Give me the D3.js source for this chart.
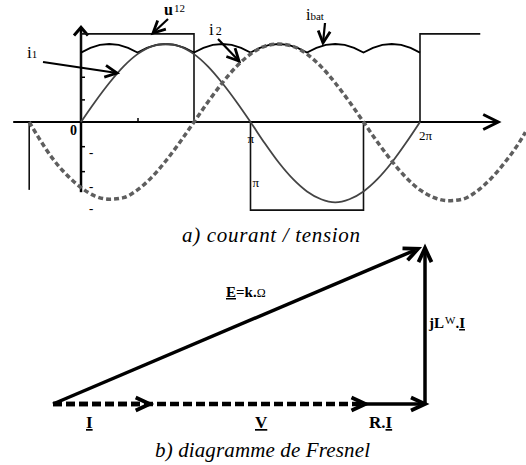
<!DOCTYPE html>
<html>
<head>
<meta charset="utf-8">
<script src="https://cdn.jsdelivr.net/npm/d3@7"></script>
<style>
body{margin:0;background:#fff;}
</style>
</head>
<body>
<script>
// a) waveforms : angle in degrees, values per-unit
var i1Deg = [0,15,30,45,60,75,90,105,120,135,150,165,180,195,210,225,240,255,270,285,300,315,330,345,360];
var i1Val = [0,0.26,0.5,0.71,0.87,0.97,1,0.97,0.87,0.71,0.5,0.26,0,-0.27,-0.52,-0.73,-0.89,-0.99,-1.03,-0.99,-0.89,-0.73,-0.52,-0.27,0];

var i2Deg = [-55,-45,-30,-15,0,15,30,45,60,75,90,105,120,135,150,165,180,195,210,225,240,255,270,285,300,315,330,345,360,375,390,405,420,435,450,465,472];
var i2Val = [0,-0.2,-0.47,-0.68,-0.84,-0.95,-0.99,-0.97,-0.87,-0.71,-0.5,-0.26,0,0.26,0.5,0.71,0.87,0.97,1,0.97,0.87,0.71,0.5,0.26,0,-0.26,-0.5,-0.71,-0.87,-0.97,-1.01,-0.99,-0.89,-0.73,-0.52,-0.27,-0.13];

var ibatDeg = [0,10,20,30,40,50,60,70,80,90,100,110,120,130,140,150,160,170,180,190,200,210,220,230,240,250,260,270,280,290,300,310,320,330,340,350,360];
var ibatVal = [0.89,0.95,0.99,1,0.99,0.95,0.89,0.95,0.99,1,0.99,0.95,0.89,0.95,0.99,1,0.99,0.95,0.89,0.95,0.99,1,0.99,0.95,0.89,0.95,0.99,1,0.99,0.95,0.89,0.95,0.99,1,0.99,0.95,0.89];

var u12Deg = [0,0,120,120,180,180,300,300,360,360,424];
var u12Val = [0,1.13,1.13,0,0,-1.13,-1.13,0,0,1.13,1.13];
var u12PrevDeg = [-55,-55];
var u12PrevVal = [0,-0.87];

var yTickVals = [0.58,0.29,-0.31,-0.63];
var yMinusVals = [-0.4,-0.83,-1.12];
var xTickVals = [60];
var angleLabels = ["0","\u03c0","\u03c0","2\u03c0"];
var angleLabelDeg = [0,180,180,360];
var angleLabelVal = [0,0,-0.77,0];

// b) Fresnel diagram : vector start / end (arbitrary units)
var vecNames = ["V","I","R.I","jLw.I","E"];
var vecX0 = [0,0,8.4,10,0];
var vecY0 = [0,0,0,0,0];
var vecX1 = [8.4,2.6,10,10,9.81];
var vecY1 = [0,0,0,4.19,4.17];

var width = 526, height = 465;
var serif = '"Liberation Serif","Times New Roman",Times,"DejaVu Serif",serif';
var svg = d3.select('body').append('svg')
    .attr('width', width).attr('height', height)
    .attr('font-family', serif);

var x = d3.scaleLinear().domain([0,360]).range([81,420]);
var y = d3.scaleLinear().domain([-1,1]).range([200,44]);

function arrowHead(g, tx, ty, dx, dy, len, half, sw){
    var n = Math.sqrt(dx*dx+dy*dy), ux = dx/n, uy = dy/n;
    var bx = tx-ux*len, by = ty-uy*len;
    g.append('path')
        .attr('d','M'+(bx-uy*half)+','+(by+ux*half)+'L'+tx+','+ty+'L'+(bx+uy*half)+','+(by-ux*half))
        .attr('fill','none').attr('stroke','#000').attr('stroke-width',sw)
        .attr('stroke-linejoin','miter').attr('stroke-linecap','butt');
}

var chart = svg.append('g');

// axes
chart.append('line')
    .attr('x1', x(-72)).attr('x2', x(442)).attr('y1', y(0)).attr('y2', y(0))
    .attr('stroke','#000').attr('stroke-width',2);
arrowHead(chart, x(442)+1, y(0), 1, 0, 15, 7.5, 3);
chart.append('line')
    .attr('x1', x(0)).attr('x2', x(0)).attr('y1', y(-0.9)).attr('y2', y(1.2))
    .attr('stroke','#000').attr('stroke-width',2.5);
arrowHead(chart, x(0), y(1.2)-1, 0, -1, 8, 7, 3);

var yAxis = chart.append('g').attr('transform','translate('+x(0)+',0)')
    .call(d3.axisRight(y).tickValues(yTickVals).tickSize(4).tickFormat(''));
yAxis.select('.domain').remove();
yAxis.selectAll('line').attr('stroke-width',1.5);
var xAxis = chart.append('g').attr('transform','translate(0,'+y(0)+')')
    .call(d3.axisTop(x).tickValues(xTickVals).tickSize(4).tickFormat(''));
xAxis.select('.domain').remove();
xAxis.selectAll('line').attr('stroke-width',1.5);

chart.selectAll('.minus').data(yMinusVals).enter().append('text')
    .attr('x', x(0)+8).attr('y', function(d){return y(d)+4;})
    .attr('font-size',13).attr('font-weight','bold').text('-');

var labDx = [-11,-3,2,-1], labDy = [13,21,5,18];
chart.selectAll('.alab').data(angleLabels).enter().append('text')
    .attr('x', function(d,i){return x(angleLabelDeg[i])+labDx[i];})
    .attr('y', function(d,i){return y(angleLabelVal[i])+labDy[i];})
    .attr('font-size', function(d,i){return i==0?14:13;})
    .attr('font-weight', function(d,i){return i==0?'bold':'normal';})
    .text(function(d){return d;});

// curves
function pts(deg, val){ return deg.map(function(d,i){return [d,val[i]];}); }
var lin = d3.line().x(function(d){return x(d[0]);}).y(function(d){return y(d[1]);});
var smooth = d3.line().x(function(d){return x(d[0]);}).y(function(d){return y(d[1]);}).curve(d3.curveMonotoneX);

chart.append('path').attr('d', lin(pts(u12Deg,u12Val)))
    .attr('fill','none').attr('stroke','#111').attr('stroke-width',1.6);
chart.append('path').attr('d', lin(pts(u12PrevDeg,u12PrevVal)))
    .attr('fill','none').attr('stroke','#111').attr('stroke-width',1.6);
chart.append('path').attr('d', lin(pts(ibatDeg,ibatVal)))
    .attr('fill','none').attr('stroke','#000').attr('stroke-width',1.8);
chart.append('path').attr('d', smooth(pts(i1Deg,i1Val)))
    .attr('fill','none').attr('stroke','#444').attr('stroke-width',1.8);
chart.append('path').attr('d', smooth(pts(i2Deg,i2Val)))
    .attr('fill','none').attr('stroke','#5e5e5e').attr('stroke-width',3.5)
    .attr('stroke-dasharray','5,3');

// annotations
function annot(x1,y1,x2,y2){
    chart.append('line').attr('x1',x1).attr('y1',y1).attr('x2',x2).attr('y2',y2)
        .attr('stroke','#000').attr('stroke-width',2.2);
    arrowHead(chart, x2, y2, x2-x1, y2-y1, 12, 6, 2.8);
}
var t1 = chart.append('text').attr('x',27).attr('y',58);
t1.append('tspan').attr('font-size',17).text('i');
t1.append('tspan').attr('font-size',11).text('1');
annot(43,62,117,73);

var t2 = chart.append('text').attr('x',209).attr('y',35);
t2.append('tspan').attr('font-size',17).text('i');
t2.append('tspan').attr('font-size',12).attr('dx',2).text('2');
annot(218,39,239,61);

var t3 = chart.append('text').attr('x',164).attr('y',15);
t3.append('tspan').attr('font-size',16).attr('font-weight','bold').text('u');
t3.append('tspan').attr('font-size',11).attr('dy',-3).attr('dx',1).text('12');
annot(168,19,153,33);

var t4 = chart.append('text').attr('x',306).attr('y',20);
t4.append('tspan').attr('font-size',16).text('i');
t4.append('tspan').attr('font-size',11).text('bat');
annot(325,23,323,43);

chart.append('text').attr('x',182).attr('y',242)
    .attr('font-size',21).attr('font-style','italic')
    .attr('textLength',178).attr('lengthAdjust','spacing')
    .text('a) courant / tension');

// b) Fresnel
var fx = d3.scaleLinear().domain([0,10]).range([53,425]);
var fy = d3.scaleLinear().domain([0,10]).range([404,32]);
var fres = svg.append('g');
vecNames.forEach(function(n,i){
    var dashed = (n=='V' || n=='I');
    var xa = fx(vecX0[i]), ya = fy(vecY0[i]), xb = fx(vecX1[i]), yb = fy(vecY1[i]);
    var len = Math.sqrt((xb-xa)*(xb-xa)+(yb-ya)*(yb-ya));
    var ux = (xb-xa)/len, uy = (yb-ya)/len;
    fres.append('line')
        .attr('x1',xa).attr('y1',ya).attr('x2',xb-ux*3).attr('y2',yb-uy*3)
        .attr('stroke','#000').attr('stroke-width',dashed?4.5:3.5)
        .attr('stroke-dasharray',dashed?'9,4':null);
    arrowHead(fres, xb, yb, ux, uy, 14, 6.5, 3.8);
});

function boldText(xp, yp, size){
    return fres.append('text').attr('x',xp).attr('y',yp)
        .attr('font-size',size).attr('font-weight','bold');
}
var eT = boldText(226,297,15);
eT.append('tspan').attr('text-decoration','underline').text('E');
eT.append('tspan').text('=k.');
eT.append('tspan').attr('font-size',12).attr('font-weight','normal').text('\u03a9');

var jT = boldText(429,328,15);
jT.append('tspan').text('jL');
jT.append('tspan').attr('font-size',11).attr('font-weight','normal').attr('dy',-4).attr('dx',1).text('W');
jT.append('tspan').attr('dy',4).text('.');
jT.append('tspan').attr('text-decoration','underline').text('I');

boldText(86,428,17).append('tspan').attr('text-decoration','underline').text('I');
boldText(255,428,17).append('tspan').attr('text-decoration','underline').text('V');
var rT = boldText(369,428,17);
rT.append('tspan').text('R.');
rT.append('tspan').attr('text-decoration','underline').text('I');

fres.append('text').attr('x',155).attr('y',457)
    .attr('font-size',21).attr('font-style','italic')
    .attr('textLength',215).attr('lengthAdjust','spacing')
    .text('b) diagramme de Fresnel');
</script>
</body>
</html>
